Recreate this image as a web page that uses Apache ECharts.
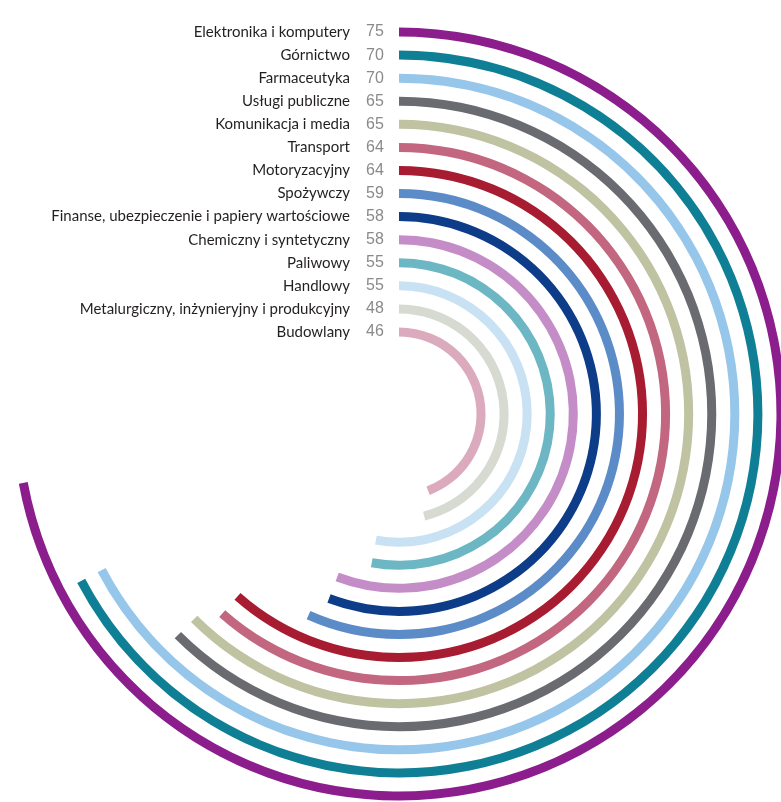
<!DOCTYPE html>
<html>
<head>
<meta charset="utf-8">
<title>Branże</title>
<script src="https://cdn.jsdelivr.net/npm/echarts@6/dist/echarts.min.js"></script>
<style>
  html, body { margin: 0; padding: 0; background: #ffffff; }
  #chart { width: 781px; height: 802px; }
</style>
</head>
<body>
<div id="chart"></div>
<script>
// Sectors, listed from the outer ring to the inner ring
const sectors = [
  'Elektronika i komputery',
  'Górnictwo',
  'Farmaceutyka',
  'Usługi publiczne',
  'Komunikacja i media',
  'Transport',
  'Motoryzacyjny',
  'Spożywczy',
  'Finanse, ubezpieczenie i papiery wartościowe',
  'Chemiczny i syntetyczny',
  'Paliwowy',
  'Handlowy',
  'Metalurgiczny, inżynieryjny i produkcyjny',
  'Budowlany'
];
const scores = [75, 70, 70, 65, 65, 64, 64, 59, 58, 58, 55, 55, 48, 46];
const ringColors = [
  '#8c1d8d', '#0f7f95', '#96c6ea', '#6a6b70', '#bfc3a2', '#c2677f', '#a81c32',
  '#5c8cc7', '#0d3c88', '#c48dc8', '#6db7c5', '#c8e1f3', '#d6dad0', '#dcaabd'
];

// radius axis runs from the centre outwards, so the inner ring comes first
const axisCats = sectors.slice().reverse();
const axisVals = scores.slice().reverse();
const axisCols = ringColors.slice().reverse();

const chart = echarts.init(document.getElementById('chart'), null, { renderer: 'canvas' });

chart.setOption({
  backgroundColor: '#ffffff',
  animation: false,
  polar: {
    center: [399, 414],
    radius: [70.5, 393.5]
  },
  angleAxis: {
    type: 'value',
    min: 0,
    max: 104,
    startAngle: 90,
    clockwise: true,
    axisLine: { show: false },
    axisTick: { show: false },
    axisLabel: { show: false },
    splitLine: { show: false }
  },
  radiusAxis: {
    type: 'category',
    data: axisCats,
    axisLine: { show: false },
    axisTick: { show: false },
    splitLine: { show: false },
    axisLabel: {
      interval: 0,
      margin: 11,
      formatter: function (name, idx) {
        return '{n|' + name + '}{v|' + axisVals[idx] + '}';
      },
      rich: {
        n: {
          fontFamily: 'Lato',
          fontSize: 15,
          color: '#231f20',
          padding: [0, 12, 0, 0]
        },
        v: {
          fontFamily: 'Liberation Sans',
          fontSize: 16,
          color: '#8a8a8a',
          width: 26,
          align: 'left'
        }
      }
    }
  },
  series: [{
    type: 'bar',
    coordinateSystem: 'polar',
    barWidth: 9,
    data: axisVals.map(function (v, i) {
      return { value: v, itemStyle: { color: axisCols[i] } };
    })
  }]
});
</script>
</body>
</html>
